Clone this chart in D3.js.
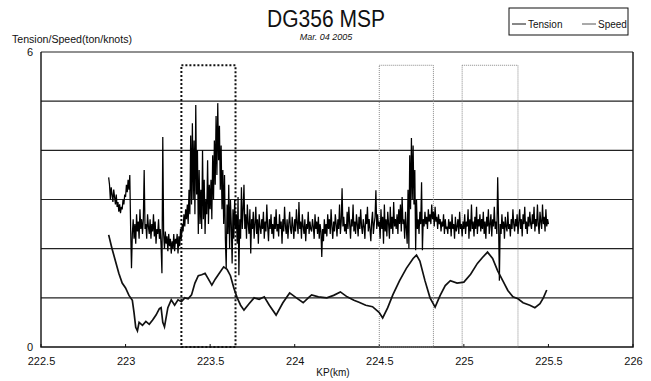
<!DOCTYPE html>
<html><head><meta charset="utf-8">
<script src="https://cdn.jsdelivr.net/npm/d3@7/dist/d3.min.js"></script>
<style>body{margin:0;background:#fff}svg{display:block}text{font-family:"Liberation Sans",Arial,sans-serif;fill:#111}</style>
</head><body><svg id="c" width="651" height="381"></svg>
<script>
// ---- data ----
const titleText = "DG356 MSP";
const subtitleText = "Mar. 04 2005";
const yTitle = "Tension/Speed(ton/knots)";
const xTitle = "KP(km)";
const xTicks = [222.5, 223, 223.5, 224, 224.5, 225, 225.5, 226];
const xTickLabels = ["222.5","223","223.5","224","224.5","225","225.5","226"];
const yTicks = [0, 6];
const yGrid = [1, 2, 3, 4, 5, 6];
const seriesNames = ["Tension", "Speed"];
// Tension sampled every 0.005 km from KP 222.900
const tensionStartKP = 222.9;
const tensionStepKP = 0.005;
const tension = [
 3.45,3.3,3.0,3.25,3.1,2.95,3.2,3.05,2.9,3.1,2.85,2.95,2.75,2.9,2.72,2.85,2.8,3.0,2.9,3.1,
 3.05,3.3,3.15,3.4,3.2,3.5,2.4,1.6,2.3,2.6,2.2,2.5,2.1,2.7,2.35,2.55,2.2,2.8,2.4,2.6,
 2.3,2.6,3.6,2.4,2.5,2.2,2.7,2.45,2.3,2.6,2.2,2.5,2.35,2.7,2.25,2.55,2.1,2.4,2.3,2.6,
 2.2,2.4,2.05,1.5,4.27,2.3,2.0,2.35,2.1,2.25,1.95,2.3,2.05,2.2,1.9,2.15,2.0,2.3,1.95,2.2,
 2.1,2.3,1.9,2.25,2.05,2.4,2.2,2.5,2.35,2.7,2.45,2.8,2.6,2.9,2.5,3.2,2.7,4.3,2.9,4.55,
 3.0,4.2,2.7,4.92,3.1,4.0,2.3,3.6,2.5,3.2,2.4,4.0,2.6,3.4,2.3,3.0,2.7,3.8,2.5,3.3,
 2.8,3.4,2.6,3.9,3.0,4.2,3.3,4.7,3.5,4.96,3.8,4.5,3.2,4.1,2.8,3.6,2.5,3.5,2.2,1.6,
 2.9,2.3,3.3,2.0,2.99,2.5,1.7,2.8,2.2,3.0,2.4,2.7,2.1,3.05,1.46,2.6,2.2,3.25,2.4,2.8,
 3.3,2.4,2.7,2.2,2.9,2.5,2.3,2.8,1.9,2.6,2.4,2.75,2.2,2.5,2.85,2.3,2.6,2.1,2.7,2.45,
 2.3,2.6,2.4,2.75,2.2,2.55,2.35,2.9,2.45,2.15,2.6,2.4,2.7,2.3,2.5,2.2,2.65,2.4,2.8,2.35,
 2.5,2.25,2.7,2.4,2.55,2.1,2.6,2.35,2.85,2.45,2.3,2.6,2.2,2.5,2.75,2.4,2.3,2.65,2.45,2.2,
 2.6,2.35,2.8,2.5,2.3,2.95,2.4,2.55,2.2,2.7,2.45,2.3,2.6,2.15,2.5,2.4,2.75,2.3,2.55,2.4,
 2.35,2.6,2.45,2.2,2.7,2.4,2.55,2.3,2.65,2.2,2.5,2.35,1.83,2.4,2.15,2.6,2.3,2.5,2.25,2.7,
 2.4,2.6,2.3,2.8,2.45,2.2,2.55,2.35,2.7,2.5,2.25,2.6,2.4,2.9,2.3,2.55,3.23,2.45,2.65,2.35,
 2.5,2.3,2.75,2.4,2.85,2.5,2.2,2.6,2.45,2.9,2.35,2.55,2.3,2.7,2.5,2.25,2.65,2.4,2.8,2.45,
 2.3,2.6,2.45,2.2,2.7,2.5,2.85,2.35,2.6,2.4,2.15,2.55,2.75,2.3,2.5,2.65,3.19,2.4,2.7,2.45,
 2.55,2.2,2.8,2.4,2.65,2.1,2.9,2.35,2.6,2.25,2.75,2.5,2.2,2.85,2.4,2.65,2.3,2.95,2.45,2.6,
 2.4,2.7,2.3,2.8,2.5,2.9,2.35,3.05,2.5,2.6,2.2,2.75,2.4,2.1,3.2,2.0,3.9,2.8,4.25,3.0,
 4.1,2.9,3.6,1.97,3.0,2.4,2.6,2.3,2.75,2.5,3.35,1.97,2.6,2.45,2.75,2.5,2.65,2.4,2.8,2.55,
 2.7,2.5,2.9,2.6,2.75,2.45,2.85,2.55,2.65,2.4,2.7,2.5,2.6,2.35,2.55,2.45,2.7,2.3,2.6,2.4,
 2.45,2.3,2.6,2.4,2.55,2.25,2.7,2.4,2.5,2.2,2.65,2.35,2.45,2.6,2.3,2.75,2.4,2.5,2.25,2.55,
 2.4,2.7,2.3,2.55,2.45,2.8,2.2,2.6,2.35,2.9,2.4,2.55,2.25,2.65,2.4,2.85,2.3,2.6,2.45,2.7,
 2.35,2.6,2.4,2.75,2.3,2.55,2.2,2.65,2.45,2.8,2.3,2.5,2.7,2.25,2.6,2.45,2.85,2.4,2.55,2.3,
 3.45,2.6,1.35,2.5,2.3,2.7,2.4,2.55,2.2,2.65,2.45,2.35,2.75,2.4,2.5,2.25,2.6,2.4,2.8,2.5,
 2.35,2.6,2.45,2.7,2.3,2.55,2.8,2.4,2.6,2.25,2.7,2.5,2.85,2.4,2.55,2.3,2.65,2.45,2.75,2.5,
 2.4,2.7,2.5,2.85,2.35,2.6,2.45,2.9,2.5,2.3,2.75,2.55,2.4,2.9,2.5,2.65,2.35,2.8,2.45,2.6,2.5
];
const speedKP = [222.90,222.92,222.94,222.96,222.98,223.00,223.02,223.04,223.05,223.06,
 223.07,223.08,223.10,223.12,223.14,223.16,223.18,223.20,223.21,223.22,
 223.23,223.25,223.27,223.29,223.31,223.33,223.35,223.37,223.39,223.41,
 223.43,223.45,223.47,223.49,223.51,223.53,223.55,223.58,223.60,223.62,
 223.64,223.66,223.68,223.70,223.73,223.76,223.79,223.82,223.85,223.89,
 223.93,223.97,224.01,224.05,224.08,224.10,224.14,224.19,224.23,224.27,
 224.31,224.35,224.38,224.42,224.46,224.50,224.52,224.55,224.58,224.62,
 224.66,224.70,224.72,224.74,224.77,224.80,224.83,224.86,224.89,224.92,
 224.96,225.00,225.04,225.08,225.11,225.14,225.17,225.20,225.23,225.26,
 225.29,225.32,225.35,225.39,225.42,225.45,225.47,225.49];
const speed = [2.28,2.0,1.75,1.5,1.3,1.2,1.05,0.95,0.7,0.4,
 0.33,0.5,0.44,0.52,0.46,0.55,0.65,0.78,0.8,0.5,
 0.41,0.8,0.96,0.85,0.96,0.92,1.0,0.98,1.06,1.3,
 1.45,1.47,1.5,1.38,1.26,1.38,1.48,1.63,1.58,1.45,
 1.2,1.0,0.85,0.75,0.88,1.0,0.97,1.02,0.85,0.65,
 0.9,1.1,1.0,0.9,1.0,1.06,1.02,1.0,1.05,1.12,
 1.02,0.95,0.91,0.85,0.82,0.7,0.59,0.8,1.06,1.35,
 1.6,1.8,1.87,1.75,1.35,1.0,0.81,1.05,1.25,1.35,
 1.3,1.32,1.48,1.7,1.82,1.93,1.8,1.55,1.35,1.15,
 1.02,0.98,0.9,0.85,0.8,0.88,1.0,1.16];
const boxKP0 = [223.33, 224.50, 224.99];
const boxKP1 = [223.65, 224.82, 225.32];
const boxTop = [5.73, 5.73, 5.73];
const boxKind = ["heavy", "light", "light"];

// ---- drawing ----
const svg = d3.select("#c");
const x = d3.scaleLinear().domain([222.5, 226]).range([41, 633]);
const y = d3.scaleLinear().domain([0, 6]).range([347, 52]);

// grid
svg.append("g").selectAll("line").data(yGrid).join("line")
  .attr("x1", x(222.5)).attr("x2", x(226))
  .attr("y1", d => y(d)).attr("y2", d => y(d))
  .attr("stroke", "#222").attr("stroke-width", 1.2);

// frame
svg.append("path")
  .attr("d", `M${x(222.5)},${y(6)}V${y(0)}H${x(226)}V${y(6)}`)
  .attr("fill", "none").attr("stroke", "#111").attr("stroke-width", 1.4);

// x axis ticks
const xa = d3.axisBottom(x).tickValues(xTicks).tickFormat((d,i) => xTickLabels[i]).tickSize(0).tickPadding(10);
const gx = svg.append("g").attr("transform", `translate(0,${y(0)})`).call(xa);
gx.select(".domain").remove();
gx.selectAll("text").style("font-size", "11px").style("font-family", '"Liberation Sans",Arial,sans-serif').attr("fill", "#000");
svg.append("g").selectAll("line").data(xTicks).join("line")
  .attr("x1", d => x(d)).attr("x2", d => x(d))
  .attr("y1", y(0)).attr("y2", y(0) - 3).attr("stroke", "#111");

// y axis labels
const ya = d3.axisLeft(y).tickValues(yTicks).tickFormat(d3.format("d")).tickSize(0).tickPadding(8);
const gy = svg.append("g").attr("transform", `translate(${x(222.5)},0)`).call(ya);
gy.select(".domain").remove();
gy.selectAll("text").style("font-size", "11px").style("font-family", '"Liberation Sans",Arial,sans-serif').attr("fill", "#000");

// boxes
boxKP0.forEach((k0, i) => {
  const heavy = boxKind[i] === "heavy";
  svg.append("rect")
    .attr("x", x(k0)).attr("y", y(boxTop[i]))
    .attr("width", x(boxKP1[i]) - x(k0)).attr("height", y(0) - y(boxTop[i]))
    .attr("fill", "none")
    .attr("stroke", heavy ? "#111" : "#888")
    .attr("stroke-width", heavy ? 2 : 1)
    .attr("stroke-dasharray", heavy ? "2,2" : "1,1");
});

// tension line
const tData = tension.map((v, i) => [tensionStartKP + i * tensionStepKP, v]);
svg.append("path").datum(tData)
  .attr("d", d3.line().x(d => x(d[0])).y(d => y(d[1])))
  .attr("fill", "none").attr("stroke", "#000").attr("stroke-width", 1.25);

// speed line
const sData = speedKP.map((k, i) => [k, speed[i]]);
svg.append("path").datum(sData)
  .attr("d", d3.line().x(d => x(d[0])).y(d => y(d[1])))
  .attr("fill", "none").attr("stroke", "#111").attr("stroke-width", 1.7);

// titles
svg.append("text").attr("x", 326).attr("y", 27).attr("text-anchor", "middle")
  .style("font-size", "23px").attr("textLength", 118).attr("lengthAdjust", "spacingAndGlyphs").text(titleText);
svg.append("text").attr("x", 326).attr("y", 40).attr("text-anchor", "middle")
  .style("font-size", "9px").style("font-style", "italic").text(subtitleText);
svg.append("text").attr("x", 12).attr("y", 43)
  .style("font-size", "10px").attr("textLength", 120).attr("lengthAdjust", "spacingAndGlyphs").text(yTitle);
svg.append("text").attr("x", 333).attr("y", 376).attr("text-anchor", "middle")
  .style("font-size", "10px").text(xTitle);

// legend
const lg = svg.append("g");
lg.append("rect").attr("x", 509).attr("y", 8).attr("width", 119).attr("height", 27)
  .attr("fill", "#fff").attr("stroke", "#111").attr("stroke-width", 1);
const legX = [512, 582];
const legCol = ["#111", "#555"];
seriesNames.forEach((n, i) => {
  lg.append("line").attr("x1", legX[i]).attr("x2", legX[i] + 14).attr("y1", 24).attr("y2", 24)
    .attr("stroke", legCol[i]).attr("stroke-width", 1);
  lg.append("text").attr("x", legX[i] + 16).attr("y", 27.5).style("font-size", "10px").text(n);
});
</script></body></html>
